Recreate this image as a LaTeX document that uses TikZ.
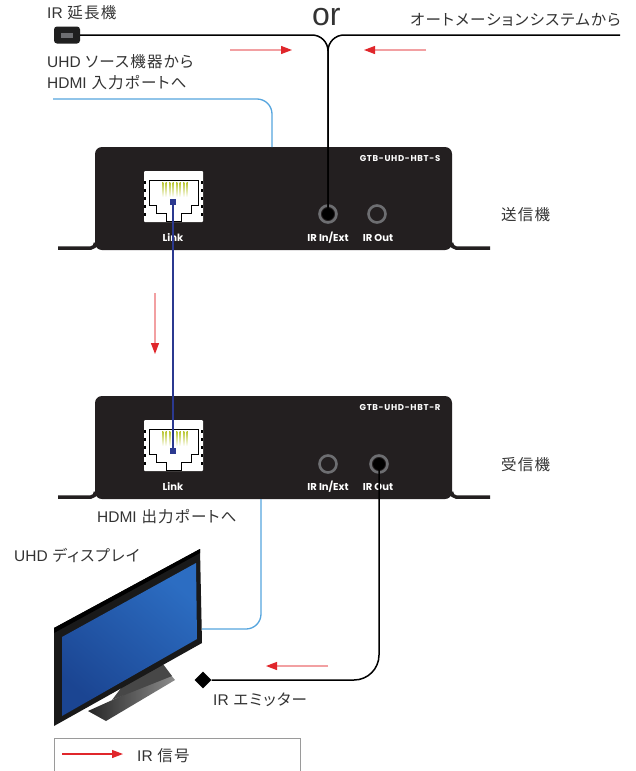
\documentclass[tikz,border=0pt]{standalone}
\usepackage{fontspec}
\setmainfont{Noto Sans CJK JP}[RawFeature=+palt, LetterSpace=8]
\newfontfamily\latinfont{Liberation Sans}
\newfontfamily\panelfont{Poppins}
\newfontfamily\modelfont{Poppins}[LetterSpace=8]
\usetikzlibrary{arrows.meta,shapes.geometric}

\definecolor{boxdark}{HTML}{231F20}
\definecolor{jackgray}{HTML}{6D6E71}
\definecolor{hdmiblue}{HTML}{56A5DE}
\definecolor{linkblue}{HTML}{2B3990}
\definecolor{irred}{HTML}{E0262B}
\definecolor{irpink}{HTML}{F2A0A2}
\definecolor{labelgray}{HTML}{333333}
\definecolor{pingreen}{HTML}{B7C42A}
\definecolor{scrdark}{HTML}{1B4592}
\definecolor{scrlight}{HTML}{2C6DC2}
\definecolor{legendgray}{HTML}{9A9A9A}

\tikzset{
	lbl/.style={text=labelgray, font=\fontsize{15.5}{17}\selectfont, inner sep=0, anchor=west},
	panel/.style={text=white, font=\panelfont\bfseries\fontsize{10}{11}\selectfont, inner sep=0},
	model/.style={text=white, font=\modelfont\bfseries\fontsize{8.5}{10}\selectfont, inner sep=0},
	jack/.style={circle, draw=jackgray, line width=2.6pt, fill=boxdark, minimum size=17pt, inner sep=0},
	linksq/.style={rectangle, fill=linkblue, minimum size=6pt, inner sep=0},
	extender/.style={rectangle, rounded corners=3pt, fill=black!88, minimum width=26pt, minimum height=17pt, inner sep=0},
	emitter/.style={diamond, aspect=1, fill=black, minimum width=17pt, minimum height=17pt, inner sep=0},
	foot/.style={draw=boxdark, line width=3.5pt},
	ircable/.style={draw=black, line width=1.5pt},
	hdmi/.style={draw=hdmiblue, line width=1.3pt},
	linkcable/.style={draw=linkblue, line width=1.3pt},
	irarrow/.style={draw=irpink, line width=1.2pt, -{Triangle[length=11pt,width=8pt,color=irred]}},
	legarrow/.style={draw=irred, line width=1.2pt, -{Triangle[length=11pt,width=8pt]}}
}

\begin{document}
\begin{tikzpicture}[x=1pt,y=-1pt]
	\fill[white] (0,0) rectangle (636,771);
	\useasboundingbox (0,0) rectangle (636,771);

	\foreach \by/\model in {147/S,396/R} {
		\draw[foot] (58,\by+101) -- (91,\by+101) to[out=0,in=-90] (95.5,\by+96);
		\draw[foot] (490,\by+101) -- (456,\by+101) to[out=180,in=-90] (451.5,\by+96);
		\fill[boxdark, rounded corners=7pt] (95,\by) rectangle (452,\by+103);
		\node[model] (gtb\model) at (400,\by+12) {GTB-UHD-HBT-\model};
		\node[panel] (link\model) at (173,\by+90) {Link};
		\node[panel] (irin\model) at (328,\by+91) {IR In/Ext};
		\node[panel] (irout\model) at (378,\by+91) {IR Out};
	}

	\foreach \py in {0,249} {
		\begin{scope}[shift={(0,\py)}]
			\fill[white, rounded corners=1pt] (144,171) rectangle (203,222);
			\foreach \ny in {181,189,197,205,213} {
				\fill[black] (144,\ny) rectangle (146,\ny+2.5);
				\fill[black] (201,\ny) rectangle (203,\ny+2.5);
			}
			\foreach \px in {0,...,7}
				\shade[top color=pingreen, bottom color=white] (162+3.5*\px,182) rectangle (163.4+3.5*\px,197);
			\draw[black, line width=0.9pt] (149,180) -- (198,180) -- (198,205) -- (191,205) -- (191,213) -- (181,213) -- (181,221) -- (166,221) -- (166,213) -- (156,213) -- (156,205) -- (149,205) -- cycle;
		\end{scope}
	}

	\node[linksq] (txlink) at (173,202) {};
	\node[linksq] (rxlink) at (173,451) {};
	\draw[linkcable] (txlink.center) -- (rxlink.center);

	\node[jack] (txirin) at (328,214) {};
	\node[jack] (txirout) at (377,214) {};
	\node[jack] (rxirin) at (328,464) {};
	\node[jack] (rxirout) at (379,464) {};

	\node[extender] (ext) at (67,35) {};
	\fill[jackgray] ([xshift=-6pt,yshift=-2.5pt]ext.center) rectangle ([xshift=6pt,yshift=2.5pt]ext.center);
	\coordinate (autosys) at (620,35);
	\draw[ircable, rounded corners=16pt] (ext.east) -| (txirin.center);
	\draw[ircable, rounded corners=16pt] (autosys) -| (txirin.center);
	\fill[black] (txirin) circle (6pt);

	\node[emitter] (emit) at (203,680) {};
	\draw[ircable, rounded corners=25pt] (rxirout.center) |- (emit.east);
	\fill[black] (rxirout) circle (6pt);

	\coordinate (hdmisrc) at (53,99);
	\coordinate (txhdmi) at (272,147);
	\draw[hdmi, rounded corners=15pt] (hdmisrc) -| (txhdmi);

	\shade[left color=black!85, right color=black!45] (88,711) -- (170,674) -- (175,680) -- (106,721) -- cycle;
	\fill[black!72] (112,700) -- (137,667) -- (163,664) -- (172,676) -- cycle;
	\fill[black!90] (54,628) -- (200,549) -- (202,643) -- (54,726) -- cycle;
	\fill[black] (54,628) -- (200,549) -- (200,553) -- (54,633) -- cycle;
	\shade[bottom color=scrdark, top color=scrlight, shading angle=-40] (62,637) -- (196,563) -- (197,639) -- (62,716) -- cycle;

	\coordinate (rxhdmi) at (261,499);
	\coordinate (tvin) at (202,629);
	\draw[hdmi, rounded corners=15pt] (rxhdmi) |- (tvin);

	\draw[irarrow] (230,50) -- (292,50);
	\draw[irarrow] (426,50) -- (364,50);
	\draw[irarrow] (155,293) -- (155,354);
	\draw[irarrow] (328,666) -- (266,666);

	\node[lbl] (extlbl) at (47,13) {{\latinfont IR} 延長機};
	\node[lbl, anchor=base west, font=\latinfont\fontsize{32}{32}\selectfont] (orlbl) at (312,25) {or};
	\node[lbl, anchor=east] (autolbl) at (621,20) {オートメーションシステムから};
	\node[lbl] (srclbl) at (47,62) {{\latinfont UHD} ソース機器から};
	\node[lbl] (srcport) at (47,83) {{\latinfont HDMI} 入力ポートへ};
	\node[lbl] (txlbl) at (501,215) {送信機};
	\node[lbl] (rxlbl) at (501,465) {受信機};
	\node[lbl] (outport) at (97,517) {{\latinfont HDMI} 出力ポートへ};
	\node[lbl] (tvlbl) at (14,555) {{\latinfont UHD} ディスプレイ};
	\node[lbl] (emitlbl) at (213,700) {{\latinfont IR} エミッター};

	\draw[legendgray, line width=0.8pt] (54,775) |- (300,738) -- (300,775);
	\draw[legarrow] (62,754) -- (123,754);
	\node[lbl] (leglbl) at (137,756) {{\latinfont IR} 信号};
\end{tikzpicture}
\end{document}
